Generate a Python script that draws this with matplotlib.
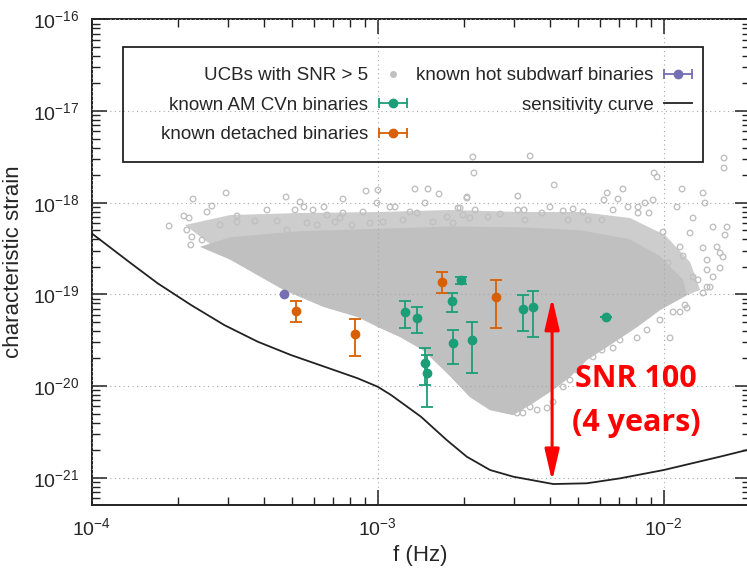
import numpy as np
import matplotlib
matplotlib.use('Agg')
import matplotlib.pyplot as plt
from matplotlib.lines import Line2D
from matplotlib.legend_handler import HandlerLine2D, HandlerTuple
from matplotlib import ticker

plt.rcParams['font.family'] = ['Liberation Sans', 'DejaVu Sans']
plt.rcParams['mathtext.fontset'] = 'custom'
plt.rcParams['mathtext.rm'] = 'Liberation Sans'
plt.rcParams['mathtext.it'] = 'Liberation Sans:italic'
plt.rcParams['mathtext.default'] = 'regular'

GRAY = '#c0c0c0'
HALO = '#cdcdcd'
GREEN = '#1b9e77'
ORANGE = '#d95f02'
PURPLE = '#7570b3'
TEXT = '#262626'

# sensitivity curve (characteristic strain)
sens_f = [1.0e-4, 1.372e-4, 1.701e-4, 2.225e-4, 2.908e-4, 3.805e-4, 4.975e-4,
          6.505e-4, 8.51e-4, 1.0e-3, 1.113e-3, 1.417e-3, 1.743e-3, 2.047e-3,
          2.470e-3, 2.979e-3, 4.11e-3, 5.38e-3, 7.03e-3, 1.0e-2, 1.573e-2, 1.955e-2]
sens_h = [4.63e-19, 2.18e-19, 1.32e-19, 7.66e-20, 4.63e-20, 3.05e-20, 2.18e-20,
          1.63e-20, 1.216e-20, 9.84e-21, 8.0e-21, 4.63e-21, 2.58e-21, 1.70e-21,
          1.216e-21, 1.028e-21, 8.55e-22, 8.71e-22, 9.86e-22, 1.216e-21, 1.70e-21, 2.01e-21]

# lower edge of the UCB population (shared by both outlines)
edge_f = [1.207e-2, 9.71e-3, 8.07e-3, 6.33e-3, 5.39e-3, 4.70e-3,
          4.10e-3, 3.41e-3, 2.97e-3, 2.47e-3, 2.10e-3, 1.747e-3, 1.44e-3, 1.197e-3,
          1.002e-3, 8.53e-4, 6.49e-4, 4.70e-4, 3.07e-4]
edge_h = [9.84e-20, 6.76e-20, 4.41e-20, 2.67e-20, 1.93e-20, 1.256e-20,
          9.07e-21, 6.22e-21, 4.84e-21, 5.48e-21, 7.60e-21, 1.388e-20, 2.47e-20, 3.43e-20,
          4.41e-20, 5.66e-20, 7.28e-20, 1.115e-19, 2.37e-19]

# upper edge of the fully covered core
core_top_f = [2.39e-4, 3.05e-4, 5.35e-4, 1.019e-3, 1.79e-3, 3.15e-3, 5.10e-3, 7.62e-3,
              9.71e-3, 1.168e-2]
core_top_h = [3.30e-19, 4.20e-19, 4.90e-19, 5.20e-19, 5.50e-19, 5.40e-19, 5.00e-19, 4.00e-19,
              2.60e-19, 1.45e-19]

# upper edge of the partly covered band above the core
halo_top_f = [2.12e-4, 3.05e-4, 5.35e-4, 1.019e-3, 1.79e-3, 3.15e-3, 5.10e-3, 7.62e-3,
              1.01e-2, 1.236e-2, 1.34e-2]
halo_top_h = [5.71e-19, 7.34e-19, 7.72e-19, 7.92e-19, 8.33e-19, 7.92e-19, 7.92e-19, 6.81e-19,
              4.44e-19, 2.25e-19, 1.117e-19]

# individual UCBs around the edge of the population
ucb_f = [2.15e-3, 3.41e-3, 2.17e-3, 1.625e-2, 1.625e-2, 4.14e-3, 9.25e-3, 9.48e-3,
         3.09e-3, 2.05e-3, 6.34e-3, 7.20e-3, 1.159e-2, 1.372e-2, 1.909e-3, 2.19e-3,
         6.18e-3, 6.92e-3, 8.60e-3, 9.18e-3, 1.394e-2, 1.113e-2, 2.43e-3, 2.68e-3,
         3.09e-3, 3.25e-3, 3.75e-3, 4.00e-3, 4.45e-3, 4.82e-3, 5.22e-3, 6.65e-3,
         7.50e-3, 8.13e-3, 8.13e-3, 8.88e-3, 1.266e-2, 1.487e-2, 1.665e-2, 1.638e-2,
         1.536e-2, 1.612e-2, 1.417e-2, 1.574e-2, 1.487e-2, 1.417e-2, 1.318e-2, 1.140e-2,
         1.206e-2, 1.372e-2, 1.140e-2, 1.168e-2, 1.035e-2, 1.236e-2, 9.94e-3, 2.10e-3,
         3.27e-3, 4.63e-3, 5.44e-3, 6.08e-3,
         2.95e-4, 2.26e-4, 4.78e-4, 2.63e-4, 2.53e-4, 2.10e-4, 2.19e-4, 3.22e-4,
         4.10e-4, 5.35e-4, 5.52e-4, 5.94e-4, 6.49e-4, 7.56e-4, 9.10e-4, 1.002e-3,
         9.94e-4, 8.88e-4, 7.56e-4, 6.65e-4, 5.14e-4, 1.104e-3, 1.150e-3, 1.350e-3,
         1.499e-3, 1.638e-3, 1.464e-3, 1.940e-3, 2.052e-3, 1.297e-3, 1.372e-3, 2.15e-4,
         2.24e-4, 2.43e-4, 2.81e-4, 3.22e-4, 3.72e-4, 4.45e-4, 4.82e-4, 5.66e-4,
         6.14e-4, 7.09e-4, 7.38e-4, 8.13e-4, 9.40e-4, 1.043e-3, 1.226e-3, 1.561e-3,
         1.747e-3, 1.834e-3, 1.987e-3, 1.864e-4, 2.22e-4,
         3.07e-3, 3.22e-3, 3.41e-3, 3.61e-3, 3.91e-3, 4.10e-3, 4.45e-3, 4.70e-3,
         4.98e-3, 5.66e-3, 6.08e-3, 6.65e-3, 7.03e-3, 8.07e-3, 1.052e-2, 8.74e-3,
         9.70e-3, 1.078e-2, 1.187e-2, 1.372e-2, 1.452e-2, 1.574e-2, 1.417e-2, 1.266e-2]
ucb_h = [3.15e-18, 3.23e-18, 2.11e-18, 3.07e-18, 2.39e-18, 1.56e-18, 2.11e-18, 1.91e-18,
         1.18e-18, 1.125e-18, 1.276e-18, 1.41e-18, 1.41e-18, 1.276e-18, 8.76e-19, 8.33e-19,
         1.07e-18, 1.097e-18, 9.93e-19, 1.07e-18, 9.93e-19, 8.98e-19, 6.98e-19, 7.53e-19,
         8.33e-19, 8.33e-19, 7.72e-19, 8.98e-19, 8.12e-19, 8.54e-19, 7.92e-19, 8.33e-19,
         8.98e-19, 8.98e-19, 7.72e-19, 7.72e-19, 6.81e-19, 5.43e-19, 5.43e-19, 4.44e-19,
         3.29e-19, 2.56e-19, 2.37e-19, 1.94e-19, 1.55e-19, 1.20e-19, 1.44e-19, 6.43e-20,
         7.11e-20, 3.21e-19, 3.29e-19, 2.62e-19, 2.20e-19, 4.67e-19, 4.79e-19, 6.81e-19,
         6.48e-19, 6.48e-19, 6.48e-19, 6.48e-19,
         1.276e-18, 1.097e-18, 1.153e-18, 9.2e-19, 7.92e-19, 7.16e-19, 6.81e-19, 7.16e-19,
         8.33e-19, 1.018e-18, 8.98e-19, 8.33e-19, 8.98e-19, 1.097e-18, 1.34e-18, 1.375e-18,
         9.93e-19, 7.92e-19, 7.72e-19, 7.34e-19, 8.33e-19, 8.98e-19, 8.98e-19, 1.41e-18,
         1.41e-18, 1.245e-18, 9.93e-19, 8.76e-19, 1.153e-18, 7.92e-19, 7.72e-19, 5.04e-19,
         4.23e-19, 3.92e-19, 5.71e-19, 6.16e-19, 6.32e-19, 6.32e-19, 5.04e-19, 6.01e-19,
         5.71e-19, 6.16e-19, 6.81e-19, 5.71e-19, 6.01e-19, 6.16e-19, 6.48e-19, 6.16e-19,
         6.98e-19, 6.01e-19, 7.34e-19, 5.57e-19, 3.46e-19,
         5.09e-21, 5.09e-21, 5.92e-21, 5.49e-21, 5.77e-21, 6.71e-21, 9.78e-21, 1.165e-20,
         1.50e-20, 2.08e-20, 2.47e-20, 2.60e-20, 3.18e-20, 3.35e-20, 3.35e-20, 4.09e-20,
         5.26e-20, 6.43e-20, 7.66e-20, 1.036e-19, 1.20e-19, 2.83e-19, 1.85e-19, 1.55e-19]

# known AM CVn binaries
amcvn_f = [1.246e-3, 1.369e-3, 1.464e-3, 1.491e-3, 1.823e-3, 1.951e-3,
           1.837e-3, 2.132e-3, 3.214e-3, 3.50e-3, 6.28e-3]
amcvn_h = [6.47e-20, 5.57e-20, 1.77e-20, 1.40e-20, 8.47e-20, 1.436e-19,
           2.93e-20, 3.18e-20, 6.88e-20, 7.34e-20, 5.71e-20]
amcvn_hi = [8.47e-20, 7.23e-20, 2.58e-20, 2.18e-20, 1.03e-19, 1.535e-19,
            4.09e-20, 5.04e-20, 9.85e-20, 1.097e-19, 5.71e-20]
amcvn_lo = [4.27e-20, 3.82e-20, 1.03e-20, 5.96e-21, 6.47e-20, 1.29e-19,
            1.73e-20, 1.40e-20, 3.99e-20, 3.40e-20, 5.71e-20]

# known detached binaries
det_f = [5.17e-4, 8.35e-4, 1.682e-3, 2.60e-3]
det_h = [6.64e-20, 3.70e-20, 1.376e-19, 9.30e-20]
det_hi = [8.47e-20, 5.35e-20, 1.755e-19, 1.436e-19]
det_lo = [5.04e-20, 2.13e-20, 1.03e-19, 4.33e-20]

# known hot subdwarf binaries
sdb_f = [4.72e-4]
sdb_h = [1.02e-19]

snr_f = 4.07e-3
snr_h_bottom = 9.2e-22
snr_ratio = 100

fig = plt.figure(figsize=(7.47, 5.68), dpi=100)
ax = fig.add_axes([0.1228, 0.1109, 0.8806, 0.8551])
ax.set_xscale('log')
ax.set_yscale('log')
ax.set_xlim(1e-4, 1.995e-2)
ax.set_ylim(5.05e-22, 1e-16)

# population: partly covered band, solid core, then single sources
ax.fill(halo_top_f + edge_f, halo_top_h + edge_h, color=HALO, lw=0, zorder=1)
ax.fill(core_top_f + edge_f, core_top_h + edge_h, color=GRAY, lw=0, zorder=1.1)
ax.scatter(ucb_f, ucb_h, s=16, facecolors='none', edgecolors=GRAY, linewidths=1.0, zorder=1.2)

ax.plot(sens_f, sens_h, color='#222222', lw=1.3, zorder=3)


def with_errors(f, h, hi, lo, color):
    h = np.array(h)
    err = [h - np.array(lo), np.array(hi) - h]
    ax.errorbar(f, h, yerr=err, fmt='o', color=color, ms=6, elinewidth=1.3,
                capsize=4, capthick=1.3, zorder=4)


with_errors(amcvn_f, amcvn_h, amcvn_hi, amcvn_lo, GREEN)
with_errors(det_f, det_h, det_hi, det_lo, ORANGE)
ax.plot(sdb_f, sdb_h, 'o', color=PURPLE, ms=6, zorder=4)

# SNR 100 arrow from the sensitivity minimum
ax.annotate('', xy=(snr_f, snr_h_bottom), xytext=(snr_f, snr_h_bottom * snr_ratio),
            arrowprops=dict(arrowstyle='<|-|>,head_length=0.95,head_width=0.22',
                            color='red', lw=2.2, shrinkA=0, shrinkB=0, mutation_scale=20),
            zorder=5)
ax.text(8.0e-3, 6.9e-21, 'SNR 100\n(4 years)', color='red', fontsize=22,
        fontweight='bold', family='Open Sans', ha='center', va='center',
        linespacing=1.6, zorder=5)

# axes styling
ax.grid(True, which='major', color='#a8a8a8', linestyle=(0, (1, 3)), lw=0.8)
ax.set_axisbelow(False)
ax.xaxis.set_major_locator(ticker.FixedLocator([1e-4, 1e-3, 1e-2]))
ax.yaxis.set_major_locator(ticker.FixedLocator([1e-21, 1e-20, 1e-19, 1e-18, 1e-17, 1e-16]))
ax.xaxis.set_major_formatter(ticker.LogFormatterMathtext())
ax.yaxis.set_major_formatter(ticker.LogFormatterMathtext())
ax.xaxis.set_minor_locator(ticker.LogLocator(base=10, subs=np.arange(2, 10), numticks=20))
ax.yaxis.set_minor_locator(ticker.LogLocator(base=10, subs=np.arange(2, 10), numticks=20))
ax.xaxis.set_minor_formatter(ticker.NullFormatter())
ax.yaxis.set_minor_formatter(ticker.NullFormatter())
ax.tick_params(which='both', direction='in', top=True, right=True, colors='#222222',
               labelcolor=TEXT, labelsize=14)
ax.tick_params(which='major', length=11, width=1.1, pad=9)
ax.tick_params(which='minor', length=5.5, width=1.0)
for s in ax.spines.values():
    s.set_linewidth(1.4)
    s.set_color('#222222')

ax.set_xlabel('f (Hz)', fontsize=16, color=TEXT, labelpad=4)
ax.set_ylabel('characteristic strain', fontsize=16, color=TEXT, labelpad=6)


# legend with error-bar style samples
def bar_sample(color):
    return Line2D([], [], color=color, lw=1.3, marker='|', ms=7, mew=1.3)


def dot_sample(color, ms=6):
    return Line2D([], [], ls='', marker='o', color=color, ms=ms)


green_bar, orange_bar, purple_bar = bar_sample(GREEN), bar_sample(ORANGE), bar_sample(PURPLE)
bar_handler = HandlerLine2D(numpoints=2, marker_pad=0)
handles = [dot_sample(GRAY, 4),
           (green_bar, dot_sample(GREEN)),
           (orange_bar, dot_sample(ORANGE)),
           (purple_bar, dot_sample(PURPLE)),
           Line2D([], [], color='#222222', lw=1.3)]
labels = ['UCBs with SNR > 5', 'known AM CVn binaries', 'known detached binaries',
          'known hot subdwarf binaries', 'sensitivity curve']
leg = ax.legend(handles, labels, ncol=2, markerfirst=False, frameon=False,
                loc='upper left', bbox_to_anchor=(0.091, 0.921), borderpad=0,
                fontsize=13.5, handlelength=1.5, handletextpad=0.55,
                columnspacing=0.5, labelspacing=0.66,
                handler_map={green_bar: bar_handler, orange_bar: bar_handler,
                             purple_bar: bar_handler,
                             tuple: HandlerTuple(ndivide=1, pad=0)})
for t in leg.get_texts():
    t.set_color(TEXT)

# legend frame
ax.add_patch(plt.Rectangle((0.0476, 0.7052), 0.8817, 0.2388, transform=ax.transAxes,
                           fill=False, ec='#222222', lw=1.3, zorder=6))

fig.savefig('out.png', dpi=100)
